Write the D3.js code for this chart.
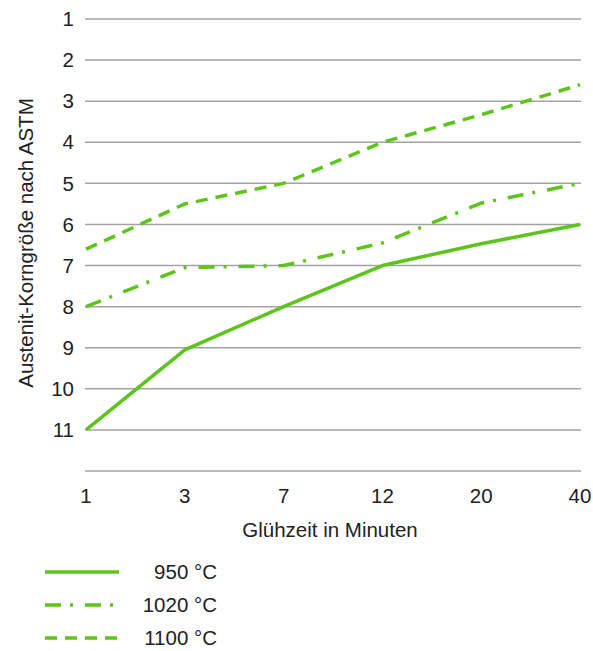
<!DOCTYPE html>
<html><head><meta charset="utf-8">
<script src="https://cdn.jsdelivr.net/npm/d3@7"></script>
<style>
html,body{margin:0;padding:0;background:#fff;}
svg{display:block;font-family:"Liberation Sans",Arial,sans-serif;}
</style></head>
<body>
<script>
const categories = ["1","3","7","12","20","40"];
const yTicks = [1,2,3,4,5,6,7,8,9,10,11];
const s950 = [11, 9.05, 8, 7, 6.47, 6];
const s1020 = [8, 7.05, 7, 6.45, 5.48, 5];
const s1100 = [6.6, 5.5, 5, 4, 3.33, 2.6];
const seriesNames = ["950 °C","1020 °C","1100 °C"];
const series = [s950, s1020, s1100];
const dashes = ["none","16 9 3 12","12 8"];

const W=593,H=651;
const svg=d3.select("body").append("svg").attr("width",W).attr("height",H);
const x=d3.scalePoint().domain(categories).range([86,580]);
const y=d3.scaleLinear().domain([1,12]).range([19,471]);
const green="#5cc41b", text="#222";
const fs=20.5;

// gridlines
svg.append("g").selectAll("line").data(d3.range(1,13)).join("line")
  .attr("x1",85).attr("x2",581).attr("y1",d=>y(d)).attr("y2",d=>y(d))
  .attr("stroke","#a3a3a3").attr("stroke-width",1.5);

// y tick labels
svg.append("g").selectAll("text").data(yTicks).join("text")
  .attr("x",74).attr("y",d=>y(d)).attr("dy","0.35em").attr("text-anchor","end")
  .attr("font-size",fs).attr("fill",text).text(d=>d);

// x tick labels
svg.append("g").selectAll("text").data(categories).join("text")
  .attr("x",d=>x(d)).attr("y",503).attr("text-anchor","middle")
  .attr("font-size",fs).attr("fill",text).text(d=>d);

// axis titles
svg.append("text").attr("x",330).attr("y",537).attr("text-anchor","middle")
  .attr("font-size",fs).attr("fill",text).text("Glühzeit in Minuten");
svg.append("text").attr("transform","translate(33,243) rotate(-90)")
  .attr("text-anchor","middle").attr("font-size",fs).attr("fill",text).text("Austenit-Korngröße nach ASTM");

// lines
const line=d3.line().x((d,i)=>x(categories[i])).y(d=>y(d));
series.forEach((s,k)=>{
  svg.append("path").attr("d",line(s)).attr("fill","none").attr("stroke",green)
    .attr("stroke-width",3.5).attr("stroke-linejoin","round").attr("stroke-dasharray",dashes[k]);
});

// legend
const ly=[572,605,638];
seriesNames.forEach((n,k)=>{
  svg.append("line").attr("x1",45).attr("x2",119).attr("y1",ly[k]).attr("y2",ly[k])
    .attr("stroke",green).attr("stroke-width",3.5).attr("stroke-dasharray",dashes[k]);
  svg.append("text").attr("x",217).attr("y",ly[k]).attr("dy","0.35em").attr("text-anchor","end")
    .attr("font-size",fs).attr("fill",text).text(n);
});
</script>
</body></html>
